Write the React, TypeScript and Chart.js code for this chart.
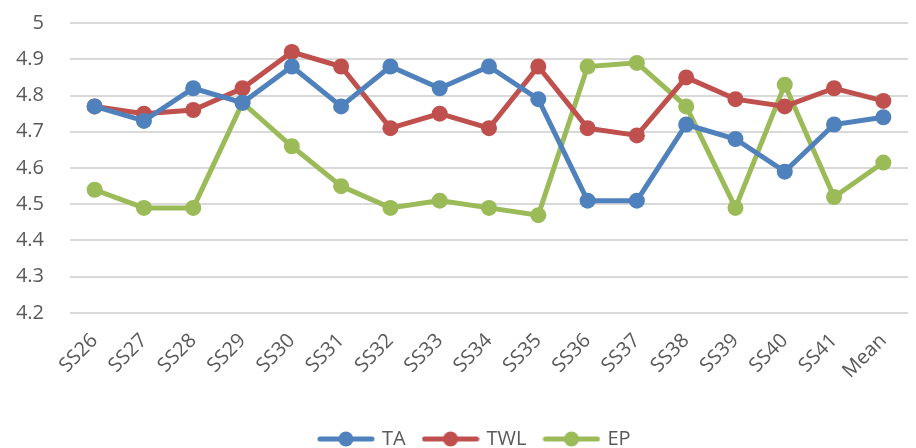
import { useEffect, useRef } from "react";
import { Chart, registerables, type ChartConfiguration, type Plugin } from "chart.js";

Chart.register(...registerables);

const categories = [
  "SS26", "SS27", "SS28", "SS29", "SS30", "SS31", "SS32", "SS33", "SS34",
  "SS35", "SS36", "SS37", "SS38", "SS39", "SS40", "SS41", "Mean",
];
const taValues = [4.77, 4.73, 4.82, 4.78, 4.88, 4.77, 4.88, 4.82, 4.88, 4.79, 4.51, 4.51, 4.72, 4.68, 4.59, 4.72, 4.74];
const twlValues = [4.77, 4.75, 4.76, 4.82, 4.92, 4.88, 4.71, 4.75, 4.71, 4.88, 4.71, 4.69, 4.85, 4.79, 4.77, 4.82, 4.785];
const epValues = [4.54, 4.49, 4.49, 4.78, 4.66, 4.55, 4.49, 4.51, 4.49, 4.47, 4.88, 4.89, 4.77, 4.49, 4.83, 4.52, 4.615];

const yMin = 4.2;
const yMax = 5;
const yStep = 0.1;

const FONT = "'Open Sans', sans-serif";
const TEXT = "#595959";

function legendIcon(color: string) {
  const c = document.createElement("canvas");
  c.width = 58;
  c.height = 18;
  const ctx = c.getContext("2d")!;
  ctx.strokeStyle = color;
  ctx.lineWidth = 5;
  ctx.lineCap = "round";
  ctx.beginPath();
  ctx.moveTo(3, 9);
  ctx.lineTo(55, 9);
  ctx.stroke();
  ctx.fillStyle = color;
  ctx.beginPath();
  ctx.arc(29, 9, 7.5, 0, Math.PI * 2);
  ctx.fill();
  return c;
}

function series(label: string, data: number[], color: string) {
  return {
    label,
    data,
    borderColor: color,
    backgroundColor: color,
    borderWidth: 5,
    pointRadius: 8,
    pointBorderWidth: 0,
    pointBackgroundColor: color,
    pointStyle: "circle" as const,
    legendIcon: legendIcon(color),
    tension: 0,
  };
}

// excel centres its legend a little right of the canvas middle
const shiftLegend: Plugin<"line"> = {
  id: "shiftLegend",
  afterLayout(chart) {
    const lg: any = (chart as any).legend;
    if (!lg) return;
    lg.left += 13;
    lg.right += 13;
  },
};

export default function App() {
  const canvasRef = useRef<HTMLCanvasElement | null>(null);
  const chartRef = useRef<Chart | null>(null);

  useEffect(() => {
    const el = canvasRef.current;
    if (!el) return;

    chartRef.current?.destroy();

    const cfg: ChartConfiguration<"line"> = {
      type: "line",
      data: {
        labels: categories,
        datasets: [
          series("TA", taValues, "#4F81BD"),
          series("TWL", twlValues, "#C0504D"),
          series("EP", epValues, "#9BBB59"),
        ] as any,
      },
      options: {
        responsive: true,
        maintainAspectRatio: false,
        animation: false,
        layout: { padding: { top: 23, left: 0, right: -8.5, bottom: -11 } },
        plugins: {
          tooltip: { enabled: false },
          legend: {
            position: "bottom",
            labels: {
              usePointStyle: true,
              pointStyleWidth: 52,
              padding: 19,
              color: TEXT,
              font: { family: FONT, size: 20 },
              generateLabels: (chart) =>
                chart.data.datasets.map((d: any, i) => ({
                  text: d.label,
                  datasetIndex: i,
                  fillStyle: d.borderColor,
                  strokeStyle: d.borderColor,
                  lineWidth: 0,
                  pointStyle: d.legendIcon,
                  hidden: false,
                  fontColor: TEXT,
                })),
            },
          },
        },
        scales: {
          x: {
            offset: true,
            grid: { display: false },
            border: { display: false },
            ticks: {
              color: TEXT,
              font: { family: FONT, size: 20 },
              minRotation: 45,
              maxRotation: 45,
              padding: 8,
              autoSkip: false,
            },
            afterFit: (scale) => {
              scale.height = 97;
            },
          },
          y: {
            min: yMin,
            max: yMax,
            border: { display: false },
            grid: { color: "#D9D9D9", lineWidth: 2, drawTicks: false },
            ticks: {
              stepSize: yStep,
              color: TEXT,
              padding: 26,
              font: { family: FONT, size: 20 },
              callback: (v) => String(Math.round(Number(v) * 10) / 10),
            },
            afterFit: (scale: any) => {
              scale.width = 70;
              scale.paddingTop = 0;
              scale.paddingBottom = 0;
            },
          },
        },
      },
      plugins: [shiftLegend],
    };

    chartRef.current = new Chart(el, cfg);

    return () => {
      chartRef.current?.destroy();
      chartRef.current = null;
    };
  }, []);

  return (
    <div style={{ position: "absolute", left: 0, top: 0, width: 916, height: 448, background: "#fff" }}>
      <canvas ref={canvasRef} />
    </div>
  );
}
